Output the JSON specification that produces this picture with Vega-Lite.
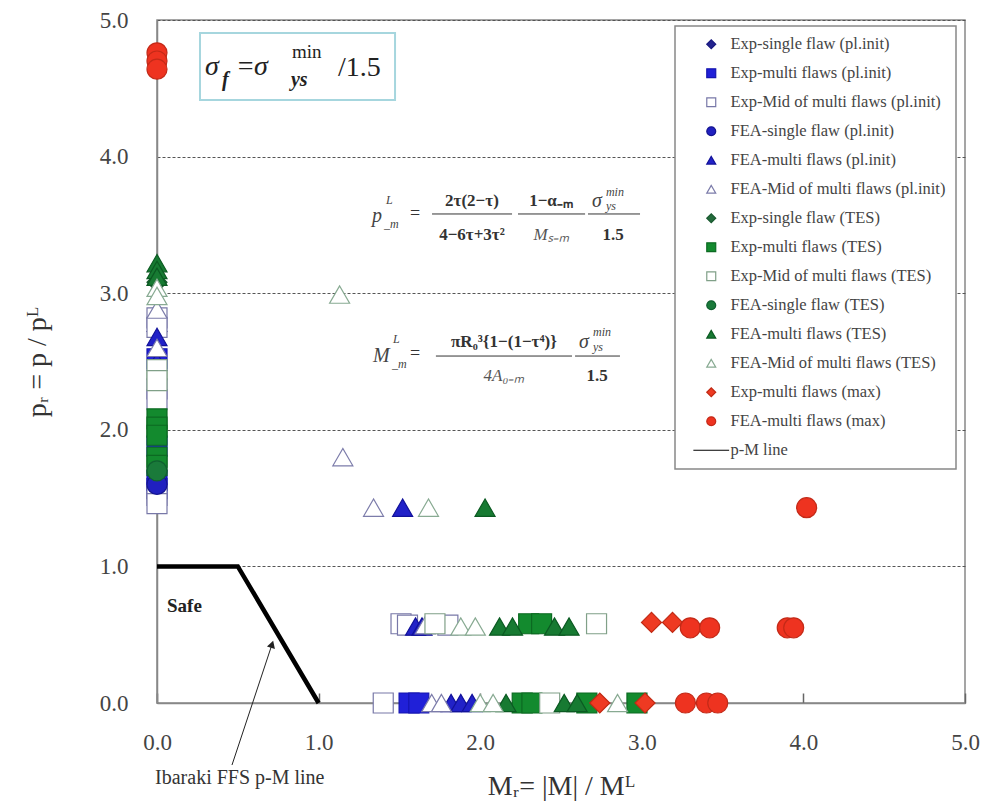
{
  "$schema": "https://vega.github.io/schema/vega-lite/v6.json",
  "width": 808,
  "height": 683,
  "autosize": {"type": "none"},
  "padding": {"left": 157, "top": 20, "right": 16, "bottom": 101},
  "background": "white",
  "config": {
    "view": {"stroke": "#888", "strokeWidth": 1.5},
    "legend": {"orient": "none", "legendX": 518, "legendY": 6, "fillColor": "white", "strokeColor": "#888", "strokeWidth": 1.5, "padding": 10, "symbolOffset": 18, "labelOffset": 11, "rowPadding": 12, "labelFont": "Liberation Serif, Times New Roman, serif", "labelFontSize": 16.5, "labelColor": "#444", "symbolSize": 80, "symbolStrokeWidth": 1.2, "labelLimit": 0}
  },
  "datasets": {
    "pts": [
      {"series": "Exp-single flaw (pl.init)", "x": 0, "y": 2.72},
      {"series": "Exp-multi flaws (pl.init)", "x": 0, "y": 2.52},
      {"series": "Exp-multi flaws (pl.init)", "x": 0, "y": 1.88},
      {"series": "Exp-multi flaws (pl.init)", "x": 0, "y": 1.63},
      {"series": "Exp-multi flaws (pl.init)", "x": 0, "y": 1.57},
      {"series": "Exp-multi flaws (pl.init)", "x": 1.56, "y": 0},
      {"series": "Exp-multi flaws (pl.init)", "x": 1.62, "y": 0},
      {"series": "Exp-Mid of multi flaws (pl.init)", "x": 0, "y": 2.82},
      {"series": "Exp-Mid of multi flaws (pl.init)", "x": 0, "y": 2.75},
      {"series": "Exp-Mid of multi flaws (pl.init)", "x": 0, "y": 2.30},
      {"series": "Exp-Mid of multi flaws (pl.init)", "x": 0, "y": 2.22},
      {"series": "Exp-Mid of multi flaws (pl.init)", "x": 0, "y": 1.52},
      {"series": "Exp-Mid of multi flaws (pl.init)", "x": 0, "y": 1.46},
      {"series": "Exp-Mid of multi flaws (pl.init)", "x": 1.51, "y": 0.58},
      {"series": "Exp-Mid of multi flaws (pl.init)", "x": 1.55, "y": 0.57},
      {"series": "Exp-Mid of multi flaws (pl.init)", "x": 1.80, "y": 0.57},
      {"series": "Exp-Mid of multi flaws (pl.init)", "x": 1.40, "y": 0},
      {"series": "FEA-single flaw (pl.init)", "x": 0, "y": 1.60},
      {"series": "FEA-multi flaws (pl.init)", "x": 0, "y": 2.68},
      {"series": "FEA-multi flaws (pl.init)", "x": 0, "y": 2.50},
      {"series": "FEA-multi flaws (pl.init)", "x": 1.60, "y": 0.56},
      {"series": "FEA-multi flaws (pl.init)", "x": 1.64, "y": 0.56},
      {"series": "FEA-multi flaws (pl.init)", "x": 1.82, "y": 0},
      {"series": "FEA-multi flaws (pl.init)", "x": 1.88, "y": 0},
      {"series": "FEA-multi flaws (pl.init)", "x": 1.95, "y": 0},
      {"series": "FEA-multi flaws (pl.init)", "x": 1.52, "y": 1.43},
      {"series": "FEA-Mid of multi flaws (pl.init)", "x": 0, "y": 2.88},
      {"series": "FEA-Mid of multi flaws (pl.init)", "x": 0, "y": 2.60},
      {"series": "FEA-Mid of multi flaws (pl.init)", "x": 1.66, "y": 0.57},
      {"series": "FEA-Mid of multi flaws (pl.init)", "x": 1.70, "y": 0},
      {"series": "FEA-Mid of multi flaws (pl.init)", "x": 1.76, "y": 0},
      {"series": "FEA-Mid of multi flaws (pl.init)", "x": 1.15, "y": 1.80},
      {"series": "FEA-Mid of multi flaws (pl.init)", "x": 1.34, "y": 1.43},
      {"series": "Exp-single flaw (TES)", "x": 0, "y": 3.08},
      {"series": "Exp-multi flaws (TES)", "x": 0, "y": 2.08},
      {"series": "Exp-multi flaws (TES)", "x": 0, "y": 2.02},
      {"series": "Exp-multi flaws (TES)", "x": 0, "y": 1.96},
      {"series": "Exp-multi flaws (TES)", "x": 0, "y": 1.80},
      {"series": "Exp-multi flaws (TES)", "x": 0, "y": 1.74},
      {"series": "Exp-multi flaws (TES)", "x": 2.30, "y": 0.58},
      {"series": "Exp-multi flaws (TES)", "x": 2.38, "y": 0.58},
      {"series": "Exp-multi flaws (TES)", "x": 2.26, "y": 0},
      {"series": "Exp-multi flaws (TES)", "x": 2.32, "y": 0},
      {"series": "Exp-multi flaws (TES)", "x": 2.66, "y": 0},
      {"series": "Exp-multi flaws (TES)", "x": 2.97, "y": 0},
      {"series": "Exp-Mid of multi flaws (TES)", "x": 0, "y": 2.44},
      {"series": "Exp-Mid of multi flaws (TES)", "x": 0, "y": 2.36},
      {"series": "Exp-Mid of multi flaws (TES)", "x": 1.72, "y": 0.58},
      {"series": "Exp-Mid of multi flaws (TES)", "x": 2.72, "y": 0.58},
      {"series": "Exp-Mid of multi flaws (TES)", "x": 2.43, "y": 0},
      {"series": "FEA-single flaw (TES)", "x": 0, "y": 1.70},
      {"series": "FEA-multi flaws (TES)", "x": 0, "y": 3.22},
      {"series": "FEA-multi flaws (TES)", "x": 0, "y": 3.17},
      {"series": "FEA-multi flaws (TES)", "x": 0, "y": 3.12},
      {"series": "FEA-multi flaws (TES)", "x": 2.12, "y": 0.56},
      {"series": "FEA-multi flaws (TES)", "x": 2.20, "y": 0.56},
      {"series": "FEA-multi flaws (TES)", "x": 2.46, "y": 0.56},
      {"series": "FEA-multi flaws (TES)", "x": 2.55, "y": 0.56},
      {"series": "FEA-multi flaws (TES)", "x": 2.16, "y": 0},
      {"series": "FEA-multi flaws (TES)", "x": 2.52, "y": 0},
      {"series": "FEA-multi flaws (TES)", "x": 2.60, "y": 0},
      {"series": "FEA-multi flaws (TES)", "x": 2.03, "y": 1.43},
      {"series": "FEA-Mid of multi flaws (TES)", "x": 0, "y": 3.04},
      {"series": "FEA-Mid of multi flaws (TES)", "x": 0, "y": 2.98},
      {"series": "FEA-Mid of multi flaws (TES)", "x": 1.88, "y": 0.56},
      {"series": "FEA-Mid of multi flaws (TES)", "x": 1.97, "y": 0.56},
      {"series": "FEA-Mid of multi flaws (TES)", "x": 2.00, "y": 0},
      {"series": "FEA-Mid of multi flaws (TES)", "x": 2.08, "y": 0},
      {"series": "FEA-Mid of multi flaws (TES)", "x": 2.85, "y": 0},
      {"series": "FEA-Mid of multi flaws (TES)", "x": 1.13, "y": 2.99},
      {"series": "FEA-Mid of multi flaws (TES)", "x": 1.68, "y": 1.43},
      {"series": "Exp-multi flaws (max)", "x": 3.06, "y": 0.59},
      {"series": "Exp-multi flaws (max)", "x": 3.19, "y": 0.59},
      {"series": "Exp-multi flaws (max)", "x": 2.74, "y": 0},
      {"series": "Exp-multi flaws (max)", "x": 3.02, "y": 0},
      {"series": "FEA-multi flaws (max)", "x": 0, "y": 4.76},
      {"series": "FEA-multi flaws (max)", "x": 0, "y": 4.70},
      {"series": "FEA-multi flaws (max)", "x": 0, "y": 4.64},
      {"series": "FEA-multi flaws (max)", "x": 3.30, "y": 0.55},
      {"series": "FEA-multi flaws (max)", "x": 3.42, "y": 0.55},
      {"series": "FEA-multi flaws (max)", "x": 3.90, "y": 0.55},
      {"series": "FEA-multi flaws (max)", "x": 3.94, "y": 0.55},
      {"series": "FEA-multi flaws (max)", "x": 3.27, "y": 0},
      {"series": "FEA-multi flaws (max)", "x": 3.40, "y": 0},
      {"series": "FEA-multi flaws (max)", "x": 3.47, "y": 0},
      {"series": "FEA-multi flaws (max)", "x": 4.02, "y": 1.43}
    ],
    "pm": [{"x": 0, "y": 1}, {"x": 0.5, "y": 1}, {"x": 1.0, "y": 0}],
    "box": [{"x": 0.266, "x2": 1.473, "y": 4.905, "y2": 4.414}],
    "fracs": [
      {"x": 1.702, "x2": 2.197, "y": 3.580},
      {"x": 2.234, "x2": 2.649, "y": 3.580},
      {"x": 2.667, "x2": 2.989, "y": 3.580},
      {"x": 1.726, "x2": 2.568, "y": 2.540},
      {"x": 2.587, "x2": 2.865, "y": 2.540}
    ],
    "arrow": [{"x": 0.464, "y": -0.454, "x2": 0.712, "y2": 0.43}],
    "arrowhead": [{"x": 0.712, "y": 0.43}],
    "txt": [
      {"kind": "f1s", "x": 0.297, "y": 4.597, "text": "σ"},
      {"kind": "f1s", "x": 0.600, "y": 4.597, "text": "σ"},
      {"kind": "f1n", "x": 0.500, "y": 4.597, "text": "="},
      {"kind": "f1n", "x": 1.120, "y": 4.590, "text": "/1.5"},
      {"kind": "f1b", "x": 0.402, "y": 4.517, "text": "f"},
      {"kind": "f1b", "x": 0.829, "y": 4.517, "text": "ys"},
      {"kind": "f1p", "x": 0.835, "y": 4.722, "text": "min"},
      {"kind": "fi", "x": 1.330, "y": 3.521, "text": "p"},
      {"kind": "fi", "x": 1.337, "y": 2.496, "text": "M"},
      {"kind": "fi", "x": 2.692, "y": 3.631, "text": "σ"},
      {"kind": "fi", "x": 2.611, "y": 2.599, "text": "σ"},
      {"kind": "fs", "x": 1.417, "y": 3.653, "text": "L"},
      {"kind": "fs", "x": 1.405, "y": 3.477, "text": "_m"},
      {"kind": "fs", "x": 2.778, "y": 3.712, "text": "min"},
      {"kind": "fs", "x": 2.778, "y": 3.609, "text": "ys"},
      {"kind": "fs", "x": 1.460, "y": 2.635, "text": "L"},
      {"kind": "fs", "x": 1.454, "y": 2.452, "text": "_m"},
      {"kind": "fs", "x": 2.698, "y": 2.687, "text": "min"},
      {"kind": "fs", "x": 2.698, "y": 2.577, "text": "ys"},
      {"kind": "fe", "x": 1.566, "y": 3.543, "text": "="},
      {"kind": "fe", "x": 1.566, "y": 2.518, "text": "="},
      {"kind": "fb", "x": 1.949, "y": 3.638, "text": "2τ(2−τ)"},
      {"kind": "fb", "x": 1.949, "y": 3.389, "text": "4−6τ+3τ²"},
      {"kind": "fb", "x": 2.438, "y": 3.638, "text": "1−α₋ₘ"},
      {"kind": "fb", "x": 2.822, "y": 3.389, "text": "1.5"},
      {"kind": "fb", "x": 2.147, "y": 2.606, "text": "πR₀³{1−(1−τ⁴)}"},
      {"kind": "fb", "x": 2.723, "y": 2.357, "text": "1.5"},
      {"kind": "fm", "x": 2.438, "y": 3.389, "text": "Mₛ₋ₘ"},
      {"kind": "fm", "x": 2.147, "y": 2.357, "text": "4A₀₋ₘ"},
      {"kind": "safe", "x": 0.062, "y": 0.666, "text": "Safe"},
      {"kind": "lbl", "x": -0.012, "y": -0.593, "text": "Ibaraki FFS p-M line"}
    ]
  },
  "encoding": {
    "x": {"field": "x", "type": "quantitative", "scale": {"domain": [0, 5], "nice": false, "zero": false}, "title": "Mᵣ= |M| / Mᴸ",
      "axis": {"values": [0, 1, 2, 3, 4, 5], "format": ".1f", "grid": false, "domainColor": "#888", "domainWidth": 1.5, "ticks": true, "tickColor": "#666", "tickSize": -10, "tickWidth": 1.5, "labelFont": "Liberation Serif, Times New Roman, serif", "labelFontSize": 23, "labelColor": "#444", "labelPadding": 38, "labelFlush": false, "titleFont": "Liberation Serif, Times New Roman, serif", "titleFontSize": 28, "titleFontWeight": "normal", "titleColor": "#333", "titlePadding": 18}},
    "y": {"field": "y", "type": "quantitative", "scale": {"domain": [0, 5], "nice": false, "zero": false}, "title": "pᵣ = p / pᴸ",
      "axis": {"values": [0, 1, 2, 3, 4, 5], "format": ".1f", "grid": true, "gridDash": [3, 2], "gridColor": "#555", "gridWidth": 1, "ticks": false, "domainColor": "#888", "domainWidth": 1.5, "labelFont": "Liberation Serif, Times New Roman, serif", "labelFontSize": 23, "labelColor": "#444", "labelPadding": 29, "labelFlush": false, "titleFont": "Liberation Serif, Times New Roman, serif", "titleFontSize": 28, "titleFontWeight": "normal", "titleColor": "#333", "titlePadding": 48}}
  },
  "layer": [
    {
      "data": {"name": "box"},
      "mark": {"type": "rect", "fill": "white", "stroke": "#a6d6de", "strokeWidth": 2},
      "encoding": {"x2": {"field": "x2"}, "y2": {"field": "y2"}}
    },
    {
      "data": {"name": "txt"},
      "transform": [{"filter": "datum.kind === 'f1s'"}],
      "mark": {"type": "text", "align": "left", "baseline": "alphabetic", "font": "Liberation Serif, Times New Roman, serif", "fontSize": 28, "fontStyle": "italic", "color": "#222"},
      "encoding": {"text": {"field": "text"}}
    },
    {
      "data": {"name": "txt"},
      "transform": [{"filter": "datum.kind === 'f1n'"}],
      "mark": {"type": "text", "align": "left", "baseline": "alphabetic", "font": "Liberation Serif, Times New Roman, serif", "fontSize": 28, "color": "#222"},
      "encoding": {"text": {"field": "text"}}
    },
    {
      "data": {"name": "txt"},
      "transform": [{"filter": "datum.kind === 'f1b'"}],
      "mark": {"type": "text", "align": "left", "baseline": "alphabetic", "font": "Liberation Serif, Times New Roman, serif", "fontSize": 20, "fontStyle": "italic", "fontWeight": "bold", "color": "#222"},
      "encoding": {"text": {"field": "text"}}
    },
    {
      "data": {"name": "txt"},
      "transform": [{"filter": "datum.kind === 'f1p'"}],
      "mark": {"type": "text", "align": "left", "baseline": "alphabetic", "font": "Liberation Serif, Times New Roman, serif", "fontSize": 19, "color": "#222"},
      "encoding": {"text": {"field": "text"}}
    },
    {
      "data": {"name": "txt"},
      "transform": [{"filter": "datum.kind === 'fi'"}],
      "mark": {"type": "text", "align": "left", "baseline": "alphabetic", "font": "Liberation Serif, Times New Roman, serif", "fontSize": 20, "fontStyle": "italic", "color": "#444"},
      "encoding": {"text": {"field": "text"}}
    },
    {
      "data": {"name": "txt"},
      "transform": [{"filter": "datum.kind === 'fs'"}],
      "mark": {"type": "text", "align": "left", "baseline": "alphabetic", "font": "Liberation Serif, Times New Roman, serif", "fontSize": 12, "fontStyle": "italic", "color": "#444"},
      "encoding": {"text": {"field": "text"}}
    },
    {
      "data": {"name": "txt"},
      "transform": [{"filter": "datum.kind === 'fe'"}],
      "mark": {"type": "text", "align": "left", "baseline": "alphabetic", "font": "Liberation Serif, Times New Roman, serif", "fontSize": 18, "color": "#333"},
      "encoding": {"text": {"field": "text"}}
    },
    {
      "data": {"name": "txt"},
      "transform": [{"filter": "datum.kind === 'fb'"}],
      "mark": {"type": "text", "align": "center", "baseline": "alphabetic", "font": "Liberation Serif, Times New Roman, serif", "fontSize": 17, "fontWeight": "bold", "color": "#333"},
      "encoding": {"text": {"field": "text"}}
    },
    {
      "data": {"name": "txt"},
      "transform": [{"filter": "datum.kind === 'fm'"}],
      "mark": {"type": "text", "align": "center", "baseline": "alphabetic", "font": "Liberation Serif, Times New Roman, serif", "fontSize": 17, "fontStyle": "italic", "color": "#555"},
      "encoding": {"text": {"field": "text"}}
    },
    {
      "data": {"name": "txt"},
      "transform": [{"filter": "datum.kind === 'safe'"}],
      "mark": {"type": "text", "align": "left", "baseline": "alphabetic", "font": "Liberation Serif, Times New Roman, serif", "fontSize": 19, "fontWeight": "bold", "color": "#222"},
      "encoding": {"text": {"field": "text"}}
    },
    {
      "data": {"name": "txt"},
      "transform": [{"filter": "datum.kind === 'lbl'"}],
      "mark": {"type": "text", "align": "left", "baseline": "alphabetic", "font": "Liberation Serif, Times New Roman, serif", "fontSize": 20, "color": "#333"},
      "encoding": {"text": {"field": "text"}}
    },
    {
      "data": {"name": "fracs"},
      "mark": {"type": "rule", "color": "#333", "strokeWidth": 1},
      "encoding": {"x2": {"field": "x2"}}
    },
    {
      "data": {"name": "arrow"},
      "mark": {"type": "rule", "color": "#222", "strokeWidth": 1},
      "encoding": {"x2": {"field": "x2"}, "y2": {"field": "y2"}}
    },
    {
      "data": {"name": "arrowhead"},
      "mark": {"type": "point", "shape": "triangle-up", "filled": true, "color": "#222", "size": 70, "angle": 18, "opacity": 1},
      "encoding": {}
    },
    {
      "data": {"name": "pm"},
      "mark": {"type": "line", "color": "black", "strokeWidth": 4.5},
      "encoding": {}
    },
    {
      "data": {"name": "pts"},
      "mark": {"type": "point", "filled": true, "size": 400, "strokeWidth": 1.2, "opacity": 1},
      "encoding": {
        "shape": {"field": "series", "type": "nominal",
          "scale": {"domain": ["Exp-single flaw (pl.init)", "Exp-multi flaws (pl.init)", "Exp-Mid of multi flaws (pl.init)", "FEA-single flaw (pl.init)", "FEA-multi flaws (pl.init)", "FEA-Mid of multi flaws (pl.init)", "Exp-single flaw (TES)", "Exp-multi flaws (TES)", "Exp-Mid of multi flaws (TES)", "FEA-single flaw (TES)", "FEA-multi flaws (TES)", "FEA-Mid of multi flaws (TES)", "Exp-multi flaws (max)", "FEA-multi flaws (max)", "p-M line"],
            "range": ["diamond", "square", "square", "circle", "triangle-up", "triangle-up", "diamond", "square", "square", "circle", "triangle-up", "triangle-up", "diamond", "circle", "M-4,0L4,0"]},
          "legend": {"title": null}},
        "fill": {"field": "series", "type": "nominal",
          "scale": {"domain": ["Exp-single flaw (pl.init)", "Exp-multi flaws (pl.init)", "Exp-Mid of multi flaws (pl.init)", "FEA-single flaw (pl.init)", "FEA-multi flaws (pl.init)", "FEA-Mid of multi flaws (pl.init)", "Exp-single flaw (TES)", "Exp-multi flaws (TES)", "Exp-Mid of multi flaws (TES)", "FEA-single flaw (TES)", "FEA-multi flaws (TES)", "FEA-Mid of multi flaws (TES)", "Exp-multi flaws (max)", "FEA-multi flaws (max)", "p-M line"],
            "range": ["#23238f", "#2020d8", "white", "#2020c0", "#2222c8", "white", "#246b3c", "#138a2e", "white", "#1a7a3a", "#177a32", "white", "#ee3a22", "#ee3320", "black"]},
          "legend": {"title": null}},
        "stroke": {"field": "series", "type": "nominal",
          "scale": {"domain": ["Exp-single flaw (pl.init)", "Exp-multi flaws (pl.init)", "Exp-Mid of multi flaws (pl.init)", "FEA-single flaw (pl.init)", "FEA-multi flaws (pl.init)", "FEA-Mid of multi flaws (pl.init)", "Exp-single flaw (TES)", "Exp-multi flaws (TES)", "Exp-Mid of multi flaws (TES)", "FEA-single flaw (TES)", "FEA-multi flaws (TES)", "FEA-Mid of multi flaws (TES)", "Exp-multi flaws (max)", "FEA-multi flaws (max)", "p-M line"],
            "range": ["#1a1a80", "#1515b0", "#7878a8", "#151590", "#12129a", "#7c7caa", "#1a5a30", "#0c6a22", "#80a088", "#106030", "#0b5a22", "#88aa92", "#c02a14", "#c42a18", "black"]},
          "legend": {"title": null}}
      }
    }
  ]
}
